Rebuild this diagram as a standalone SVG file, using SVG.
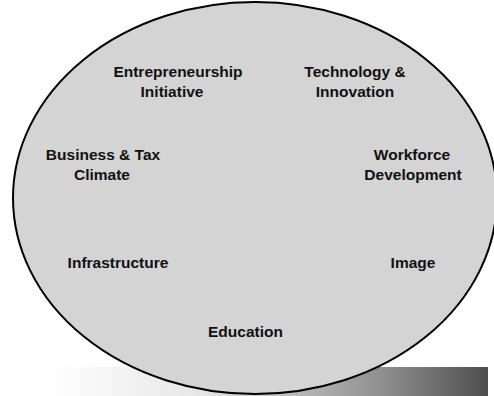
<svg xmlns="http://www.w3.org/2000/svg" width="494" height="396" viewBox="0 0 494 396">
<style>
.lbl{font-family:"Liberation Sans",Arial,sans-serif;font-weight:bold;font-size:15.5px;fill:#111;text-anchor:middle}
</style>
<defs>
<linearGradient id="bar" x1="50" y1="0" x2="488" y2="0" gradientUnits="userSpaceOnUse">
<stop offset="0" stop-color="#ffffff"/>
<stop offset="0.35" stop-color="#e6e6e6"/>
<stop offset="0.78" stop-color="#8a8a8a"/>
<stop offset="1" stop-color="#4e4e4e"/>
</linearGradient>
</defs>
<rect width="494" height="396" fill="#ffffff"/>
<rect x="50" y="367" width="438" height="29" fill="url(#bar)"/>
<g id="ellipse">
<ellipse cx="255" cy="198" rx="242" ry="196" fill="#d4d4d4" stroke="#000" stroke-width="2"/>
</g>
<g id="entrepreneurship"><text class="lbl" x="178" y="77">Entrepreneurship</text><text class="lbl" x="172" y="97">Initiative</text></g>
<g id="technology"><text class="lbl" x="355" y="77">Technology &amp;</text><text class="lbl" x="355" y="97">Innovation</text></g>
<g id="business"><text class="lbl" x="103" y="160">Business &amp; Tax</text><text class="lbl" x="102" y="180">Climate</text></g>
<g id="workforce"><text class="lbl" x="412" y="160">Workforce</text><text class="lbl" x="413" y="180">Development</text></g>
<g id="infrastructure"><text class="lbl" x="118" y="268">Infrastructure</text></g>
<g id="image"><text class="lbl" x="413" y="268">Image</text></g>
<g id="education"><text class="lbl" x="245.5" y="337">Education</text></g>
<g id="connectors"></g>
</svg>
